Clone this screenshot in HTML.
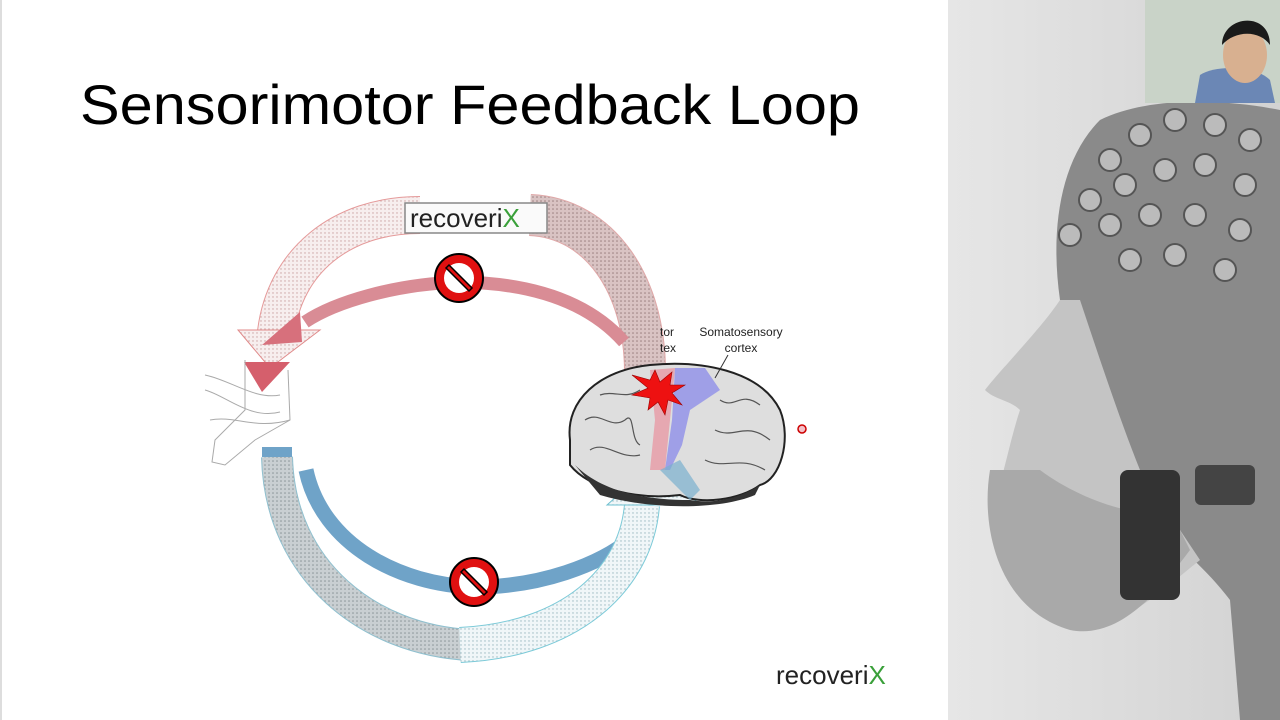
<!DOCTYPE html>
<html><head><meta charset="utf-8"><style>
html,body{margin:0;padding:0;width:1280px;height:720px;overflow:hidden;background:#fff;font-family:"Liberation Sans",sans-serif}
</style></head><body>
<svg width="1280" height="720" viewBox="0 0 1280 720" xmlns="http://www.w3.org/2000/svg">
<defs>
<pattern id="dotR" width="4" height="4" patternUnits="userSpaceOnUse"><rect width="4" height="4" fill="#f7eeee"/><circle cx="1" cy="1" r="0.7" fill="#c9a0a0"/></pattern>
<pattern id="dotRG" width="4" height="4" patternUnits="userSpaceOnUse"><rect width="4" height="4" fill="#d9c3c3"/><circle cx="1" cy="1" r="0.8" fill="#9a7f7f"/></pattern>
<pattern id="dotB" width="4" height="4" patternUnits="userSpaceOnUse"><rect width="4" height="4" fill="#f0f6f8"/><circle cx="1" cy="1" r="0.7" fill="#9ab8c0"/></pattern>
<pattern id="dotBG" width="4" height="4" patternUnits="userSpaceOnUse"><rect width="4" height="4" fill="#c9cfd2"/><circle cx="1" cy="1" r="0.8" fill="#8a9498"/></pattern>
<linearGradient id="bg" x1="0" x2="1"><stop offset="0" stop-color="#e6e6e6"/><stop offset="1" stop-color="#d2d2d2"/></linearGradient>
</defs>
<rect x="0" y="0" width="2" height="720" fill="#ddd"/>
<text x="80" y="124" font-size="56" fill="#000" textLength="780" lengthAdjust="spacingAndGlyphs">Sensorimotor Feedback Loop</text>

<!-- top outer arrow -->
<path d="M645,372 C645,285 600,218 530,215" fill="none" stroke="#e0a8a8" stroke-width="42"/>
<path d="M645,372 C645,285 600,218 530,215" fill="none" stroke="url(#dotRG)" stroke-width="40"/>
<path d="M420,215 C340,215 285,262 276,332" fill="none" stroke="#e59a9a" stroke-width="38"/>
<path d="M420,215 C340,215 285,262 276,332" fill="none" stroke="url(#dotR)" stroke-width="36"/>
<polygon points="238,330 320,330 270,368" fill="url(#dotR)" stroke="#e08a8a" stroke-width="1"/>
<!-- inner red arrow -->
<path d="M624,342 C585,298 525,283 460,282 C395,284 335,302 305,322" fill="none" stroke="#d98c95" stroke-width="13"/>
<polygon points="300,312 302,342 262,345" fill="#d7707c"/>
<polygon points="244,362 290,362 262,392" fill="#d55f6c"/>

<!-- recoverix label -->
<rect x="405" y="203" width="142" height="30" fill="#fafafa" stroke="#888" stroke-width="1.5"/>
<text x="410" y="227" font-size="26" fill="#222">recoveri<tspan fill="#3aa03a">X</tspan></text>

<!-- foot -->
<g fill="none" stroke="#aaa" stroke-width="1">
<path d="M245,360 L245,410 L215,440 L212,462 L225,465 L255,440 L290,420 L288,370"/>
<path d="M205,375 C230,380 255,400 280,395"/>
<path d="M205,390 C225,395 250,420 280,412"/>
<path d="M210,420 C235,415 255,430 290,420"/>
</g>

<!-- bottom outer arrow -->
<path d="M277,457 C280,572 370,640 470,645" fill="none" stroke="#8fc0cf" stroke-width="32"/>
<path d="M277,457 C280,572 370,640 470,645" fill="none" stroke="url(#dotBG)" stroke-width="30"/>
<!-- blue inner band -->
<path d="M306,470 C322,545 400,585 475,587 C540,587 600,565 632,538" fill="none" stroke="#6fa3c8" stroke-width="15"/>
<rect x="262" y="447" width="30" height="10" fill="#6fa3c8"/>
<path d="M460,645 C570,640 636,580 642,505" fill="none" stroke="#7ccad8" stroke-width="36"/>
<path d="M460,645 C570,640 636,580 642,505" fill="none" stroke="url(#dotB)" stroke-width="34"/>
<polygon points="607,505 700,505 655,462" fill="url(#dotB)" stroke="#6fc0d0" stroke-width="1"/>

<!-- no symbols -->
<g>
<circle cx="459" cy="278" r="24" fill="#e01010" stroke="#000" stroke-width="2"/>
<circle cx="459" cy="278" r="15" fill="#fff"/>
<path d="M446,268 L469,291 L472,288 L449,265 Z" fill="#e01010" stroke="#000" stroke-width="1.5"/>
<circle cx="474" cy="582" r="24" fill="#e01010" stroke="#000" stroke-width="2"/>
<circle cx="474" cy="582" r="15" fill="#fff"/>
<path d="M461,572 L484,595 L487,592 L464,569 Z" fill="#e01010" stroke="#000" stroke-width="1.5"/>
</g>

<!-- brain -->
<path d="M570,440 C565,400 600,370 650,365 C700,360 760,370 780,410 C792,440 780,480 760,485 C740,500 700,505 680,495 C640,500 590,490 570,465 Z" fill="#dedede" stroke="#222" stroke-width="2"/>
<path d="M575,465 C600,490 640,500 690,500 C720,505 745,495 760,485 L755,495 C720,510 650,510 600,495 Z" fill="#333"/>
<g fill="none" stroke="#555" stroke-width="1.2">
<path d="M585,420 C600,410 610,430 625,420 C635,410 630,440 640,445"/>
<path d="M590,450 C605,440 620,460 640,455"/>
<path d="M720,400 C735,410 740,390 760,405"/>
<path d="M715,430 C735,440 745,420 770,440"/>
<path d="M705,460 C725,470 740,455 765,470"/>
<path d="M600,395 C615,390 625,400 640,390"/>
</g>
<path d="M650,370 L675,368 L670,420 L665,470 L650,470 L655,420 Z" fill="#e79aa5" opacity="0.8"/>
<path d="M675,368 L705,368 L720,390 L690,410 L682,445 L670,470 L665,470 L672,420 Z" fill="#8f8ee8" opacity="0.8"/>
<path d="M660,470 L680,460 L700,490 L690,500 Z" fill="#7ab0cf" opacity="0.7"/>
<polygon points="655,370 660,382 672,372 670,385 685,385 672,393 682,405 668,400 665,415 658,402 648,410 650,398 632,395 648,388 632,375 650,380" fill="#ee1111" stroke="#900" stroke-width="0.6"/>
<text x="660" y="336" font-size="12" fill="#222">tor</text>
<text x="660" y="352" font-size="12" fill="#222">tex</text>
<text x="741" y="336" font-size="12" fill="#222" text-anchor="middle">Somatosensory</text>
<text x="741" y="352" font-size="12" fill="#222" text-anchor="middle">cortex</text>
<path d="M728,355 L715,378" stroke="#333" stroke-width="1"/>
<circle cx="802" cy="429" r="4" fill="#f3c0c8" stroke="#c00" stroke-width="1.5"/>

<text x="776" y="684" font-size="26" fill="#222">recoveri<tspan fill="#3aa03a">X</tspan></text>

<!-- right photo -->
<rect x="948" y="0" width="332" height="720" fill="url(#bg)"/>
<path d="M1100,120 C1150,95 1230,100 1280,110 L1280,720 L1240,720 L1230,600 C1200,560 1150,520 1110,500 C1090,440 1060,370 1060,300 C1050,230 1060,160 1100,120 Z" fill="#8a8a8a"/>
<path d="M1060,300 C1040,330 1000,370 985,390 C995,400 1010,400 1020,410 C1010,440 1005,470 995,500 C990,540 1000,600 1060,620 C1110,640 1150,600 1200,560 L1140,470 C1120,420 1100,360 1080,300 Z" fill="#c4c4c4"/>
<path d="M990,470 C980,530 1000,610 1070,630 C1120,640 1160,590 1190,550 L1170,510 C1140,520 1080,500 1040,470 Z" fill="#a9a9a9"/>
<rect x="1120" y="470" width="60" height="130" rx="8" fill="#333"/>
<rect x="1195" y="465" width="60" height="40" rx="6" fill="#444"/>
<g fill="#bbb" stroke="#555" stroke-width="2">
<circle cx="1110" cy="160" r="11"/><circle cx="1140" cy="135" r="11"/><circle cx="1175" cy="120" r="11"/><circle cx="1215" cy="125" r="11"/><circle cx="1250" cy="140" r="11"/>
<circle cx="1090" cy="200" r="11"/><circle cx="1125" cy="185" r="11"/><circle cx="1165" cy="170" r="11"/><circle cx="1205" cy="165" r="11"/><circle cx="1245" cy="185" r="11"/>
<circle cx="1070" cy="235" r="11"/><circle cx="1110" cy="225" r="11"/><circle cx="1150" cy="215" r="11"/><circle cx="1195" cy="215" r="11"/><circle cx="1240" cy="230" r="11"/>
<circle cx="1130" cy="260" r="11"/><circle cx="1175" cy="255" r="11"/><circle cx="1225" cy="270" r="11"/>
</g>
<rect x="1145" y="0" width="135" height="103" fill="#c9d3c8"/>
<path d="M1195,103 L1200,75 C1215,65 1255,65 1270,80 L1275,103 Z" fill="#6b87b5"/>
<ellipse cx="1245" cy="55" rx="22" ry="28" fill="#d8b090"/>
<path d="M1222,45 C1222,15 1270,10 1270,45 C1260,30 1235,30 1222,45 Z" fill="#1a1a1a"/>
</svg>
</body></html>
